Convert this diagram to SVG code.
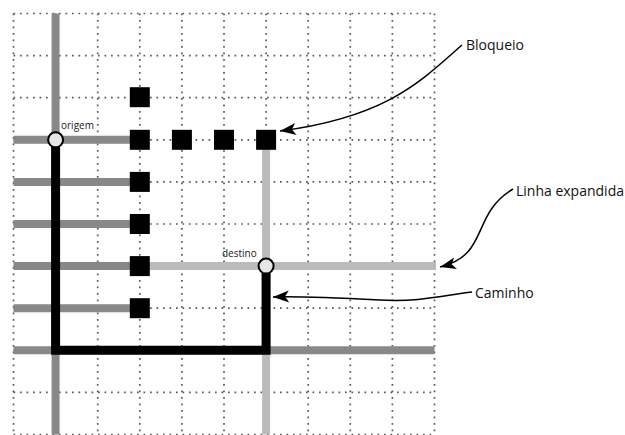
<svg xmlns="http://www.w3.org/2000/svg" width="625" height="435" viewBox="0 0 625 435">
<style>
.grid{stroke:#5a5a5a;stroke-width:1.7;stroke-dasharray:1.7 4.8;fill:none}
.dk{stroke:#888;stroke-width:8;fill:none}
.lt{stroke:#bbb;stroke-width:8;fill:none}
.path{stroke:#000;stroke-width:9;fill:none;stroke-linejoin:miter}
.blk{fill:#000}
.end{fill:#e6e6e6;stroke:#000;stroke-width:2}
.small{font-family:"Open Sans","DejaVu Sans",sans-serif;font-size:10px;fill:#222}
.lbl{font-family:"Open Sans","DejaVu Sans",sans-serif;font-size:14px;fill:#111}
.arr{stroke:#000;stroke-width:1.5;fill:none;marker-end:url(#ah)}
</style>
<defs>
<marker id="ah" markerUnits="userSpaceOnUse" markerWidth="20" markerHeight="14" viewBox="-1 -7 19 14" refX="16" refY="0" orient="auto">
<path d="M0,-6 L16,0 L0,6 L4,0 Z" fill="#000"/>
</marker>
</defs>
<rect width="625" height="435" fill="#fff"/>
<g id="grid" class="grid">
<path d="M13.5,13.5H434.5M13.5,55.6H434.5M13.5,97.7H434.5M13.5,139.8H434.5M13.5,181.9H434.5M13.5,224H434.5M13.5,266.1H434.5M13.5,308.2H434.5M13.5,350.3H434.5M13.5,392.4H434.5M13.5,434.5H434.5"/>
<path d="M13.5,13.5V434.5M55.6,13.5V434.5M97.7,13.5V434.5M139.8,13.5V434.5M181.9,13.5V434.5M224,13.5V434.5M266.1,13.5V434.5M308.2,13.5V434.5M350.3,13.5V434.5M392.4,13.5V434.5M434.5,13.5V434.5"/>
</g>
<g id="expanded-lines">
<path class="dk" d="M55.6,13.5V434.5"/>
<path class="dk" d="M13.5,139.8H139.8M13.5,181.9H139.8M13.5,224H139.8M13.5,266.1H139.8M13.5,308.2H139.8"/>
<path class="dk" d="M13.5,350.3H434.5"/>
<path class="lt" d="M266.1,139.8V434.5"/>
<path class="lt" d="M139.8,266.1H436"/>
</g>
<g id="caminho-path">
<path class="path" d="M55.6,139.8V350.3H266.1V266.1"/>
</g>
<g id="blocks">
<rect class="blk" x="129.8" y="87.2" width="20" height="20"/>
<rect class="blk" x="129.8" y="129.8" width="20" height="20"/>
<rect class="blk" x="171.9" y="129.8" width="20" height="20"/>
<rect class="blk" x="214" y="129.8" width="20" height="20"/>
<rect class="blk" x="256.1" y="129.8" width="20" height="20"/>
<rect class="blk" x="129.8" y="171.9" width="20" height="20"/>
<rect class="blk" x="129.8" y="214" width="20" height="20"/>
<rect class="blk" x="129.8" y="256.1" width="20" height="20"/>
<rect class="blk" x="129.8" y="298.2" width="20" height="20"/>
</g>
<g id="origem">
<circle class="end" cx="55.6" cy="139.8" r="7.5"/>
<text class="small" x="61" y="129.3">origem</text>
</g>
<g id="destino">
<circle class="end" cx="266.1" cy="266.1" r="7.5"/>
<text class="small" x="222" y="257">destino</text>
</g>
<g id="label-bloqueio"><text class="lbl" x="466" y="50">Bloqueio</text></g>
<g id="label-linha"><text class="lbl" x="516" y="196">Linha expandida</text></g>
<g id="label-caminho"><text class="lbl" x="475" y="298">Caminho</text></g>
<g id="connectors">
<path class="arr" d="M462,45 C422,80 388,117 280,131"/>
<path class="arr" d="M513,189 C470,215 490,255 440,267"/>
<path class="arr" d="M472,292 C440,296 420,302 380,300 S300,296 273,297"/>
</g>
</svg>
